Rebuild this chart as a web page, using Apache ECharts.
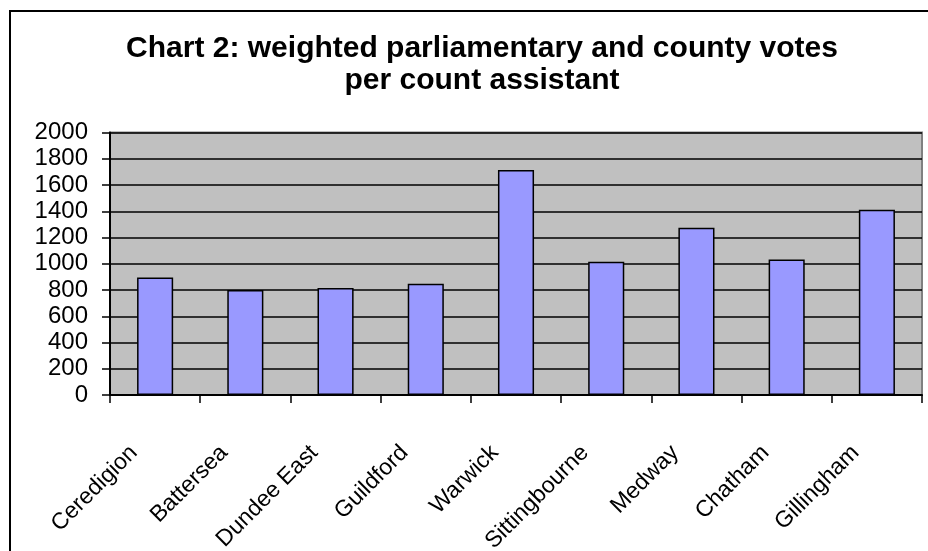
<!DOCTYPE html>
<html>
<head>
<meta charset="utf-8">
<script src="https://cdn.jsdelivr.net/npm/echarts@6/dist/echarts.min.js"></script>
<style>
html,body{margin:0;padding:0;background:#fff;}
#chart{width:928px;height:551px;}
</style>
</head>
<body>
<div id="chart"></div>
<script>
const titleLines = ['Chart 2: weighted parliamentary and county votes', 'per count assistant'];
const categories = ['Ceredigion', 'Battersea', 'Dundee East', 'Guildford', 'Warwick', 'Sittingbourne', 'Medway', 'Chatham', 'Gillingham'];
const votesPerAssistant = [895, 800, 815, 848, 1715, 1015, 1275, 1032, 1412];
const yMin = 0, yMax = 2000, yStep = 200;

const FONT = '"Liberation Sans", Arial, sans-serif';
const chart = echarts.init(document.getElementById('chart'), null, {renderer: 'canvas'});
chart.setOption({
  backgroundColor: '#ffffff',
  animation: false,
  graphic: [{
    type: 'rect',
    shape: {x: 10, y: 11, width: 1000, height: 1000},
    style: {fill: 'none', stroke: '#000', lineWidth: 2},
    silent: true
  }],
  title: {
    text: titleLines.join('\n'),
    left: 477,
    textAlign: 'center',
    top: 28,
    textStyle: {fontFamily: FONT, fontSize: 30, fontWeight: 'bold', color: '#000', lineHeight: 32}
  },
  grid: {
    left: 110, right: 6, top: 132.5, bottom: 156,
    containLabel: false, outerBoundsMode: 'none',
    show: true, backgroundColor: '#C0C0C0', borderColor: '#808080', borderWidth: 2
  },
  xAxis: {
    type: 'category',
    data: categories,
    boundaryGap: true,
    axisLine: {lineStyle: {color: '#000', width: 2}},
    axisTick: {show: true, alignWithLabel: false, length: 8, lineStyle: {color: '#000', width: 1.5}},
    axisLabel: {
      rotate: 45, interval: 0, margin: 33, padding: [0, 30, 0, 0],
      fontFamily: FONT, fontSize: 23, color: '#000'
    },
    splitLine: {show: false}
  },
  yAxis: {
    type: 'value',
    min: yMin, max: yMax, interval: yStep,
    axisLine: {show: true, lineStyle: {color: '#000', width: 2}},
    axisTick: {show: true, length: 8, lineStyle: {color: '#000', width: 1.5}},
    axisLabel: {margin: 22, fontFamily: FONT, fontSize: 24, color: '#000', formatter: v => String(v)},
    splitLine: {show: true, lineStyle: {color: '#000', width: 1.5}}
  },
  series: [{
    type: 'bar',
    data: votesPerAssistant,
    barCategoryGap: '60%',
    itemStyle: {color: '#9999FF', borderColor: '#000', borderWidth: 1.5}
  }]
});
</script>
</body>
</html>
